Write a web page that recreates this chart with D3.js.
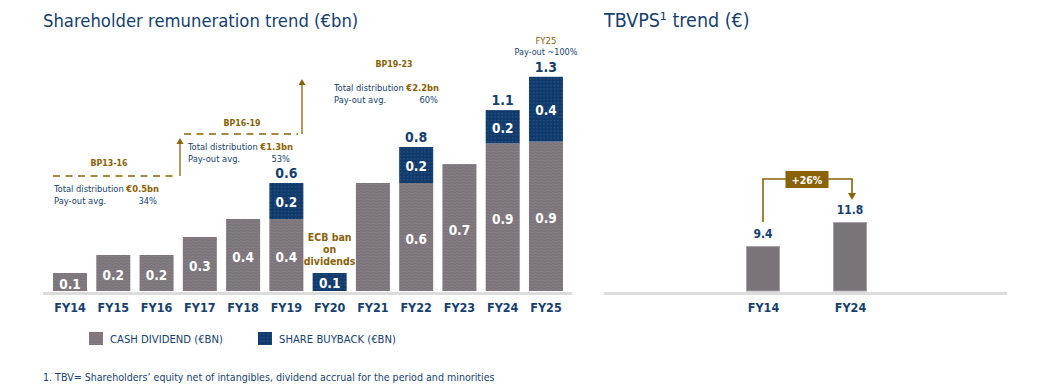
<!DOCTYPE html>
<html>
<head>
<meta charset="utf-8">
<script src="https://cdn.jsdelivr.net/npm/d3@7/dist/d3.min.js"></script>
<style>
  html, body { margin: 0; padding: 0; background: #ffffff; }
  svg { display: block; }
  text { font-family: 'DejaVu Sans Condensed', 'Open Sans', sans-serif; }
</style>
</head>
<body>
<svg id="chart" width="1043" height="390"></svg>
<script>
// ---------------- DATA ----------------
const years = ["FY14","FY15","FY16","FY17","FY18","FY19","FY20","FY21","FY22","FY23","FY24","FY25"];
// bar heights (€bn)
const cashDividend = [0.1, 0.2, 0.2, 0.3, 0.4, 0.4, 0, 0.6, 0.6, 0.705, 0.82, 0.83];
const shareBuyback = [0, 0, 0, 0, 0, 0.2, 0.1, 0, 0.2, 0, 0.185, 0.36];
// printed labels
const cashLabels    = ["0.1","0.2","0.2","0.3","0.4","0.4","","","0.6","0.7","0.9","0.9"];
const buybackLabels = ["","","","","","0.2","0.1","","0.2","","0.2","0.4"];
const totalLabels   = ["","","","","","0.6","","","0.8","","1.1","1.3"];
const seriesNames = ["CASH DIVIDEND (€BN)", "SHARE BUYBACK (€BN)"];

const planNames   = ["BP13-16", "BP16-19", "BP19-23"];
const planTotals  = ["€0.5bn", "€1.3bn", "€2.2bn"];
const planPayouts = ["34%", "53%", "60%"];

const tbvYears = ["FY14", "FY24"];
const tbvps = [9.4, 11.8];
const tbvGrowth = "+26%";

// ---------------- STYLE ----------------
const NAVY = "#163f6f";
const GOLD = "#8a6208";
const GRAY = "#7a7379";
const BAR_NAVY = "#0f3a6b";
const BASE = "#dcdcdc";
const FONT = "'DejaVu Sans Condensed', 'Open Sans', sans-serif";

const svg = d3.select("#chart");
const defs = svg.append("defs");

// textured fills
const pg = defs.append("pattern").attr("id","patCash").attr("patternUnits","userSpaceOnUse")
  .attr("width",6).attr("height",6);
pg.append("rect").attr("width",6).attr("height",6).attr("fill",GRAY);
pg.append("path").attr("d","M0,1.5 Q1.5,0 3,1.5 T6,1.5 M0,4.5 Q1.5,3 3,4.5 T6,4.5")
  .attr("fill","none").attr("stroke","#8b858b").attr("stroke-width",0.8);

const pn = defs.append("pattern").attr("id","patBuy").attr("patternUnits","userSpaceOnUse")
  .attr("width",3.5).attr("height",3.5);
pn.append("rect").attr("width",3.5).attr("height",3.5).attr("fill",BAR_NAVY);
pn.append("path").attr("d","M0.9,0.9 L2.1,2.1 M2.1,0.9 L0.9,2.1")
  .attr("stroke","#3d6190").attr("stroke-width",0.6);

// ---------------- LEFT CHART ----------------
const baseY = 291;
const x = d3.scaleBand().domain(years).range([48.4, 567.6]).paddingInner(0.214).paddingOuter(0.107);
const y = d3.scaleLinear().domain([0, 1]).range([baseY, baseY - 180]);

svg.append("text").attr("x", 43).attr("y", 27).attr("fill", NAVY)
  .attr("font-size", 18.3).text("Shareholder remuneration trend (€bn)");

// baseline
svg.append("rect").attr("x", 43).attr("y", baseY + 1).attr("width", 529).attr("height", 3).attr("fill", BASE);

const rows = years.map((yr, i) => ({ yr, cash: cashDividend[i], buy: shareBuyback[i],
  cl: cashLabels[i], bl: buybackLabels[i], tl: totalLabels[i] }));

const g = svg.append("g");
g.selectAll("rect.cash").data(rows.filter(d => d.cash > 0)).join("rect")
  .attr("class","cash")
  .attr("x", d => x(d.yr)).attr("width", x.bandwidth())
  .attr("y", d => y(d.cash)).attr("height", d => y(0) - y(d.cash))
  .attr("fill", "url(#patCash)");
g.selectAll("rect.buy").data(rows.filter(d => d.buy > 0)).join("rect")
  .attr("class","buy")
  .attr("x", d => x(d.yr)).attr("width", x.bandwidth())
  .attr("y", d => y(d.cash + d.buy)).attr("height", d => y(d.cash) - y(d.cash + d.buy))
  .attr("fill", "url(#patBuy)");

// inside labels
g.selectAll("text.cl").data(rows.filter(d => d.cl)).join("text")
  .attr("x", d => x(d.yr) + x.bandwidth()/2)
  .attr("y", d => (y(0) + y(d.cash))/2 + 2)
  .attr("text-anchor","middle").attr("dominant-baseline","central")
  .attr("fill","#ffffff").attr("font-weight","bold").attr("font-size",13.5)
  .text(d => d.cl);
g.selectAll("text.bl").data(rows.filter(d => d.bl)).join("text")
  .attr("x", d => x(d.yr) + x.bandwidth()/2)
  .attr("y", d => (y(d.cash) + y(d.cash + d.buy))/2 + 1)
  .attr("text-anchor","middle").attr("dominant-baseline","central")
  .attr("fill","#ffffff").attr("font-weight","bold").attr("font-size",13.5)
  .text(d => d.bl);
g.selectAll("text.tl").data(rows.filter(d => d.tl)).join("text")
  .attr("x", d => x(d.yr) + x.bandwidth()/2)
  .attr("y", d => y(d.cash + d.buy) - 10)
  .attr("text-anchor","middle").attr("dominant-baseline","central")
  .attr("fill",NAVY).attr("font-weight","bold").attr("font-size",14)
  .text(d => d.tl);

// x axis
const xAxis = svg.append("g").attr("transform", `translate(0,${baseY + 4})`)
  .call(d3.axisBottom(x).tickSize(0).tickPadding(8));
xAxis.select(".domain").remove();
xAxis.selectAll("text").attr("fill", NAVY).attr("font-size", 12.5).attr("font-weight","bold")
  .attr("font-family", FONT);

// ECB note
const ecb = svg.append("text").attr("text-anchor","middle").attr("fill",GOLD)
  .attr("font-weight","bold").attr("font-size",10.5);
["ECB ban","on","dividends"].forEach((t,i) => {
  ecb.append("tspan").attr("x", x("FY20") + x.bandwidth()/2).attr("y", 241 + i*12).text(t);
});

// plan annotations
function arrowUp(xp, y0, y1) {
  svg.append("line").attr("x1",xp).attr("x2",xp).attr("y1",y0).attr("y2",y1 + 5)
    .attr("stroke",GOLD).attr("stroke-width",1.3);
  svg.append("path").attr("d",`M${xp-3.5},${y1+6} L${xp},${y1} L${xp+3.5},${y1+6} Z`).attr("fill",GOLD);
}
function dashed(x0, x1, yy) {
  svg.append("line").attr("x1",x0).attr("x2",x1).attr("y1",yy).attr("y2",yy)
    .attr("stroke",GOLD).attr("stroke-width",1.3).attr("stroke-dasharray","7,5.5");
}
function planText(i, xl, xr, yt, xName, yName) {
  svg.append("text").attr("x", xName).attr("y", yName).attr("text-anchor","middle")
    .attr("fill",GOLD).attr("font-weight","bold").attr("font-size",8.8).text(planNames[i]);
  const t = svg.append("text").attr("x", xl).attr("y", yt).attr("fill",NAVY).attr("font-size",9.3);
  t.append("tspan").text("Total distribution ");
  t.append("tspan").attr("fill",GOLD).attr("font-weight","bold").text(planTotals[i]);
  svg.append("text").attr("x", xl).attr("y", yt + 12).attr("fill",NAVY).attr("font-size",9.3).text("Pay-out avg.");
  svg.append("text").attr("x", xr).attr("y", yt + 12).attr("text-anchor","end").attr("fill",NAVY).attr("font-size",9.3).text(planPayouts[i]);
}

dashed(53, 173, 176);
arrowUp(180, 176, 138);
planText(0, 54, 157, 192, 109, 166);

dashed(184, 298, 134);
arrowUp(302, 134, 79);
planText(1, 188, 290, 150, 242, 126);

planText(2, 334, 438, 91, 394, 67);

svg.append("text").attr("x", x("FY25") + x.bandwidth()/2).attr("y", 44).attr("text-anchor","middle")
  .attr("fill",GOLD).attr("font-size",9.5).text("FY25");
svg.append("text").attr("x", x("FY25") + x.bandwidth()/2).attr("y", 55).attr("text-anchor","middle")
  .attr("fill",NAVY).attr("font-size",9).text("Pay-out ~100%");

// legend
const lg = svg.append("g");
[["url(#patCash)", 89], ["url(#patBuy)", 258]].forEach((s, i) => {
  lg.append("rect").attr("x", s[1]).attr("y", 332).attr("width", 14).attr("height", 13).attr("fill", s[0]);
  lg.append("text").attr("x", s[1] + 21).attr("y", 339).attr("dominant-baseline","central")
    .attr("fill", NAVY).attr("font-size", 11.2).text(seriesNames[i]);
});

// footnote
svg.append("text").attr("x", 43).attr("y", 381).attr("fill", NAVY).attr("font-size", 10.6)
  .text("1. TBV= Shareholders’ equity net of intangibles, dividend accrual for the period and minorities");

// ---------------- RIGHT CHART ----------------
svg.append("text").attr("x", 604).attr("y", 27).attr("fill", NAVY)
  .attr("font-size", 19.5).text("TBVPS¹ trend (€)");

svg.append("rect").attr("x", 604).attr("y", baseY + 1).attr("width", 403).attr("height", 3).attr("fill", BASE);

const x2 = d3.scalePoint().domain(tbvYears).range([763, 850]);
const y2 = d3.scaleLinear().domain([4.9, 12]).range([baseY, baseY - 71]);
const bw2 = 34;
const rows2 = tbvYears.map((yr, i) => ({ yr, v: tbvps[i] }));

svg.selectAll("rect.tbv").data(rows2).join("rect").attr("class","tbv")
  .attr("x", d => x2(d.yr) - bw2/2 + 0.5).attr("width", bw2 - 1)
  .attr("y", d => y2(d.v) + 0.5).attr("height", d => baseY - y2(d.v) - 0.5)
  .attr("fill", "#7a737a").attr("stroke", "#a7a2a7").attr("stroke-width", 1);
svg.selectAll("text.tbvl").data(rows2).join("text").attr("class","tbvl")
  .attr("x", d => x2(d.yr)).attr("y", d => y2(d.v) - 12)
  .attr("text-anchor","middle").attr("dominant-baseline","central")
  .attr("fill", NAVY).attr("font-weight","bold").attr("font-size", 12).text(d => d.v.toFixed(1));

const xAxis2 = svg.append("g").attr("transform", `translate(0,${baseY + 4})`)
  .call(d3.axisBottom(x2).tickSize(0).tickPadding(8));
xAxis2.select(".domain").remove();
xAxis2.selectAll("text").attr("fill", NAVY).attr("font-size", 12.5).attr("font-weight","bold")
  .attr("font-family", FONT);

// growth bracket
const bx0 = x2("FY14"), bx1 = x2("FY24") + 2, by = 179;
svg.append("path").attr("d", `M${bx0},222 L${bx0},${by} L${bx1},${by} L${bx1},194`)
  .attr("fill","none").attr("stroke",GOLD).attr("stroke-width",1.6);
svg.append("path").attr("d", `M${bx1-4},193 L${bx1},200 L${bx1+4},193 Z`).attr("fill",GOLD);
const bmid = (bx0 + bx1) / 2;
svg.append("rect").attr("x", bmid - 22).attr("y", 171).attr("width", 43).attr("height", 17).attr("fill", GOLD);
svg.append("text").attr("x", bmid - 0.5).attr("y", 180).attr("text-anchor","middle").attr("dominant-baseline","central")
  .attr("fill","#ffffff").attr("font-weight","bold").attr("font-size",10.5).text(tbvGrowth);
</script>
</body>
</html>
